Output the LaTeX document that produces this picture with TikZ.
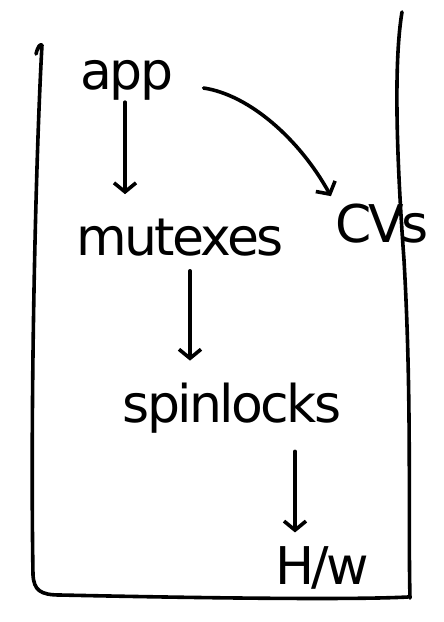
\documentclass[tikz,border=0pt]{standalone}
\usepackage{fontspec}
\setmainfont{DejaVu Sans}
\usetikzlibrary{arrows.meta}
\begin{document}
\begin{tikzpicture}[x=1pt,y=-1pt,
  ink/.style={line width=3.6pt,line cap=round,line join=round,draw=black},
  lbl/.style={font=\fontsize{52}{56}\selectfont\addfontfeature{LetterSpace=-5},inner sep=0pt},
  arr/.style={ink,-{Straight Barb[length=9pt,width=22pt]}}]
\useasboundingbox (0,0) rectangle (444,622);
% frame
\draw[ink] (36,54) .. controls (38,46) and (40,44) .. (42,45)
  .. controls (36,150) and (30,400) .. (33,575)
  .. controls (34,590) and (40,595) .. (60,595)
  .. controls (200,598) and (350,600) .. (408,597);
\draw[ink] (402,12) .. controls (394,60) and (396,150) .. (404,260)
  .. controls (412,400) and (408,520) .. (410,598);
% labels
\node[lbl] (app) at (127,80) {app};
\node[lbl] (mut) at (180,238) {mutexes};
\node[lbl] (cvs) at (382,224) {CVs};
\node[lbl] (spin) at (232,408) {spinlocks};
\node[lbl] (hw) at (322,568) {H/w};
% arrows
\draw[arr,shorten <=2pt,shorten >=25pt] (app.south -| 125,0) -- (mut.north -| 125,0);
\draw[arr] ([xshift=30pt,yshift=-8pt]app.east) .. controls (250,95) and (300,140) .. ([xshift=-4pt,yshift=8pt]cvs.north west);
\draw[arr,shorten <=14pt,shorten >=22pt] (mut.south -| 190,0) -- (spin.north -| 190,0);
\draw[arr,shorten <=18pt,shorten >=14pt] (spin.south -| 295,0) -- (hw.north -| 295,0);
\end{tikzpicture}
\end{document}
